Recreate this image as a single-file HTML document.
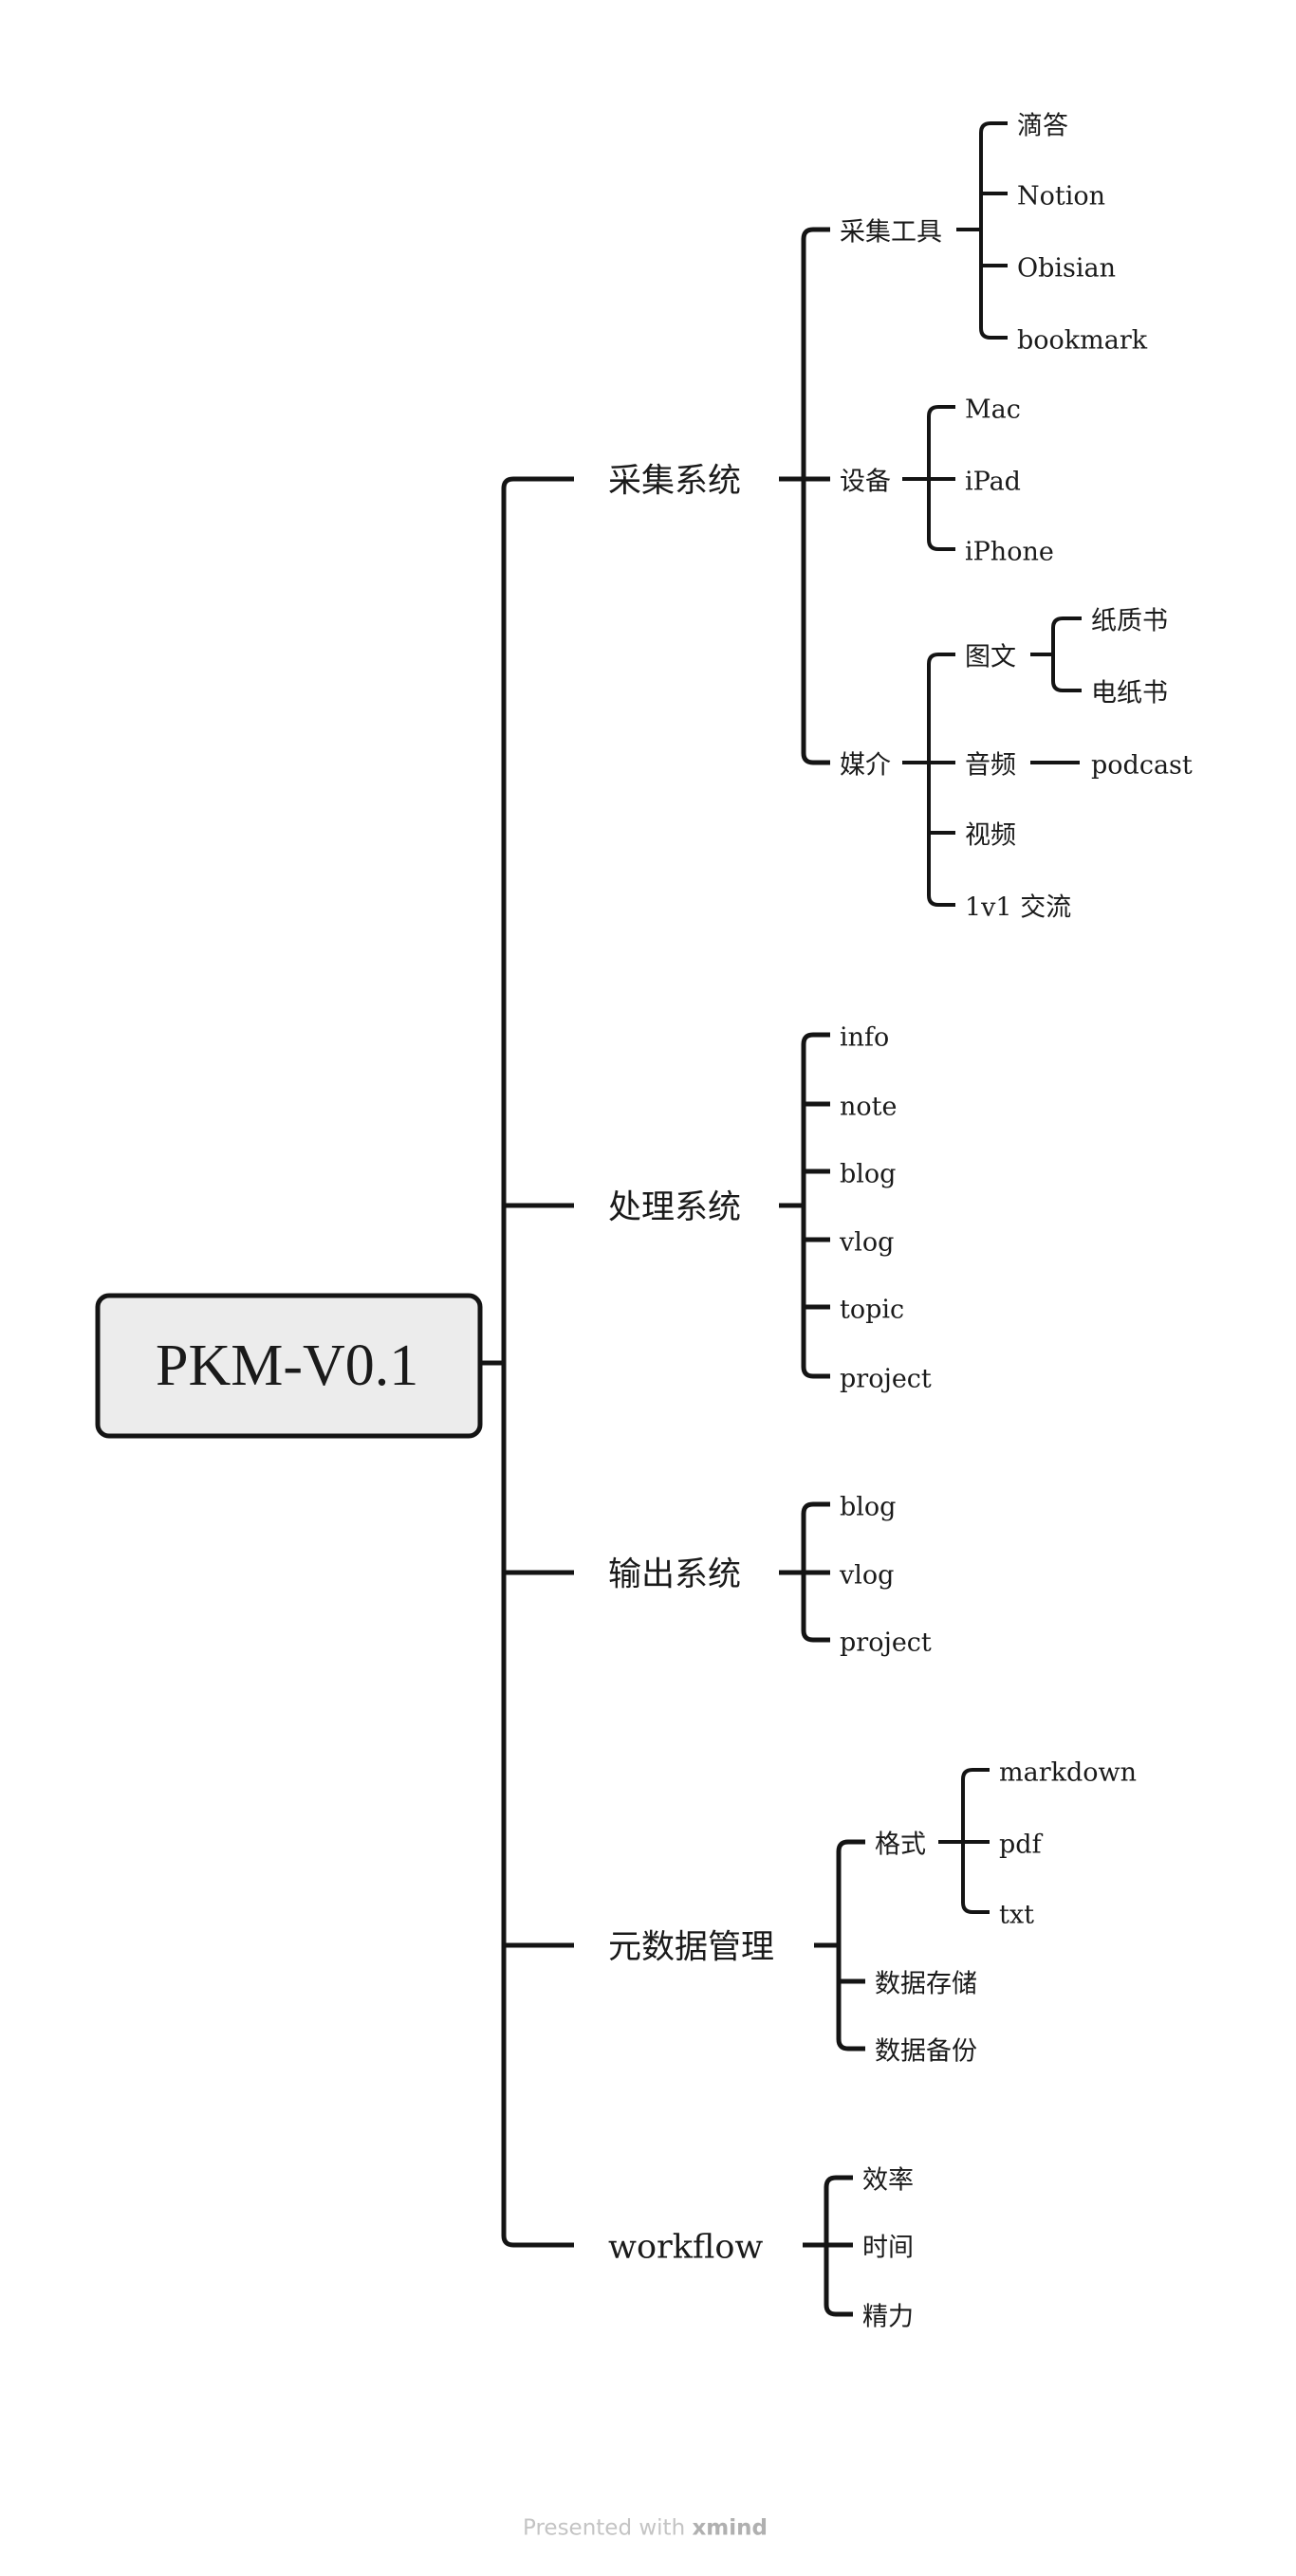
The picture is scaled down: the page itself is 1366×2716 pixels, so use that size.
<!DOCTYPE html>
<html><head><meta charset="utf-8"><style>
body{margin:0;background:#fff;}
#c{position:relative;width:1366px;height:2716px;overflow:hidden;}
.t{position:absolute;transform:translateY(calc(-50% + 3px));white-space:nowrap;color:#1a1a1a;font-family:"DejaVu Serif","Noto Sans CJK SC",serif;font-size:27px;line-height:1;}
.l1{font-size:35px;}
svg{position:absolute;left:0;top:0;}
</style></head><body><div id="c">
<svg width="1366" height="2716" fill="none" stroke="#141414" stroke-linecap="butt">
<rect x="103" y="1366" width="403" height="148" rx="12" fill="#ececec" stroke-width="5"/>
<g stroke-width="5">
<path d="M506 1437 H531 M605 505 H541 Q531 505 531 515 V2357 Q531 2367 541 2367 H605 M531 1271 H605 M531 1658 H605 M531 2051 H605"/>
<path d="M821 505 H847 M875 242 H857 Q847 242 847 252 V794 Q847 804 857 804 H875 M847 505 H875"/>
<path d="M821 1271 H847 M875 1091 H857 Q847 1091 847 1101 V1441 Q847 1451 857 1451 H875 M847 1164 H875 M847 1235 H875 M847 1307 H875 M847 1378 H875"/>
<path d="M821 1658 H847 M875 1586 H857 Q847 1586 847 1596 V1719 Q847 1729 857 1729 H875 M847 1658 H875"/>
<path d="M858 2051 H884 M912 1942 H894 Q884 1942 884 1952 V2150 Q884 2160 894 2160 H912 M884 2089 H912"/>
<path d="M846 2367 H871 M899 2296 H881 Q871 2296 871 2306 V2430 Q871 2440 881 2440 H899 M871 2367 H899"/>
</g>
<g stroke-width="4">
<path d="M1008 242 H1034 M1062 130 H1044 Q1034 130 1034 140 V346 Q1034 356 1044 356 H1062 M1034 204 H1062 M1034 280 H1062"/>
<path d="M951 505 H979 M1007 429 H989 Q979 429 979 439 V569 Q979 579 989 579 H1007 M979 505 H1007"/>
<path d="M951 804 H979 M1007 690 H989 Q979 690 979 700 V944 Q979 954 989 954 H1007 M979 804 H1007 M979 878 H1007"/>
<path d="M1086 690 H1110 M1140 652 H1120 Q1110 652 1110 662 V718 Q1110 728 1120 728 H1140"/>
<path d="M989 1942 H1015 M1043 1866 H1025 Q1015 1866 1015 1876 V2006 Q1015 2016 1025 2016 H1043 M1015 1942 H1043"/>
<path d="M1086 804 H1138"/>
</g>
</svg>
<div class="t" style="left:164px;top:1437px;font-family:'Liberation Serif','Noto Sans CJK SC',serif;font-size:62px;">PKM-V0.1</div>
<div class="t l1" style="left:641px;top:505px">采集系统</div>
<div class="t l1" style="left:641px;top:1271px">处理系统</div>
<div class="t l1" style="left:641px;top:1658px">输出系统</div>
<div class="t l1" style="left:641px;top:2051px">元数据管理</div>
<div class="t l1" style="left:641px;top:2367px">workflow</div>

<div class="t" style="left:885px;top:242px">采集工具</div>
<div class="t" style="left:885px;top:505px">设备</div>
<div class="t" style="left:885px;top:804px">媒介</div>
<div class="t" style="left:1072px;top:130px">滴答</div>
<div class="t" style="left:1072px;top:204px">Notion</div>
<div class="t" style="left:1072px;top:280px">Obisian</div>
<div class="t" style="left:1072px;top:356px">bookmark</div>
<div class="t" style="left:1017px;top:429px">Mac</div>
<div class="t" style="left:1017px;top:505px">iPad</div>
<div class="t" style="left:1017px;top:579px">iPhone</div>
<div class="t" style="left:1017px;top:690px">图文</div>
<div class="t" style="left:1017px;top:804px">音频</div>
<div class="t" style="left:1017px;top:878px">视频</div>
<div class="t" style="left:1017px;top:954px">1v1 交流</div>
<div class="t" style="left:1150px;top:652px">纸质书</div>
<div class="t" style="left:1150px;top:728px">电纸书</div>
<div class="t" style="left:1150px;top:804px">podcast</div>

<div class="t" style="left:885px;top:1091px">info</div>
<div class="t" style="left:885px;top:1164px">note</div>
<div class="t" style="left:885px;top:1235px">blog</div>
<div class="t" style="left:885px;top:1307px">vlog</div>
<div class="t" style="left:885px;top:1378px">topic</div>
<div class="t" style="left:885px;top:1451px">project</div>

<div class="t" style="left:885px;top:1586px">blog</div>
<div class="t" style="left:885px;top:1658px">vlog</div>
<div class="t" style="left:885px;top:1729px">project</div>

<div class="t" style="left:922px;top:1942px">格式</div>
<div class="t" style="left:922px;top:2089px">数据存储</div>
<div class="t" style="left:922px;top:2160px">数据备份</div>
<div class="t" style="left:1053px;top:1866px">markdown</div>
<div class="t" style="left:1053px;top:1942px">pdf</div>
<div class="t" style="left:1053px;top:2016px">txt</div>

<div class="t" style="left:909px;top:2296px">效率</div>
<div class="t" style="left:909px;top:2367px">时间</div>
<div class="t" style="left:909px;top:2440px">精力</div>

<div class="t" style="left:551px;top:2663px;font-family:'DejaVu Sans',sans-serif;font-size:23px;color:#c4c4c4;">Presented with <b style="color:#b0b0b0">xmind</b></div>
</div></body></html>
